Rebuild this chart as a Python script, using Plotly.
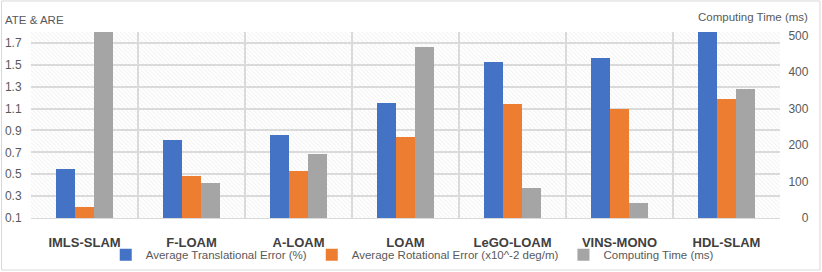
import plotly.graph_objects as go

categories = ["IMLS-SLAM", "F-LOAM", "A-LOAM", "LOAM", "LeGO-LOAM", "VINS-MONO", "HDL-SLAM"]
ate = [0.55, 0.81, 0.86, 1.15, 1.53, 1.565, 1.90]
are = [0.20, 0.48, 0.53, 0.84, 1.14, 1.10, 1.19]
comp_time = [1250, 95, 175, 469, 83, 42, 354]
left_ticks = [0.1, 0.3, 0.5, 0.7, 0.9, 1.1, 1.3, 1.5, 1.7]
right_ticks = [0, 100, 200, 300, 400, 500]

names = ["Average Translational Error (%)", "Average Rotational Error (x10^-2 deg/m)", "Computing Time (ms)"]
colors = ["#4472C4", "#ED7D31", "#A5A5A5"]
FONT = "Liberation Sans, Arial, sans-serif"
TXT = "#595959"
GRID = "#D9D9D9"

xpos = list(range(len(categories)))
bw = 0.175

fig = go.Figure()
# hatched plot-area background
fig.add_trace(go.Bar(
    x=[(len(categories) - 1) / 2], y=[1.8 - 0.1], base=[0.1], width=[len(categories)],
    marker=dict(color="rgba(0,0,0,0)", line=dict(width=0),
                pattern=dict(shape="\\", fgcolor="#E2E2E2", bgcolor="rgba(0,0,0,0)", size=3, solidity=0.3)),
    showlegend=False, hoverinfo="skip", xaxis="x", yaxis="y"))
fig.add_trace(go.Bar(x=xpos, y=ate, name=names[0], marker=dict(color=colors[0], line=dict(width=0)),
                     width=bw, offset=-1.5 * bw, xaxis="x", yaxis="y"))
fig.add_trace(go.Bar(x=xpos, y=are, name=names[1], marker=dict(color=colors[1], line=dict(width=0)),
                     width=bw, offset=-0.5 * bw, xaxis="x", yaxis="y"))
fig.add_trace(go.Bar(x=xpos, y=comp_time, name=names[2], marker=dict(color=colors[2], line=dict(width=0)),
                     width=bw, offset=0.5 * bw, xaxis="x", yaxis="y2"))

fig.update_layout(
    width=822, height=272,
    margin=dict(l=31, r=42, t=32, b=54, autoexpand=False),
    paper_bgcolor="white", plot_bgcolor="white",
    barmode="overlay", bargap=0,
    font=dict(family=FONT, color=TXT, size=11),
    xaxis=dict(range=[-0.5, len(categories) - 0.5], tickvals=xpos, ticktext=categories,
               tickfont=dict(size=13, color="#404040", family=FONT, weight="bold"),
               showgrid=False, zeroline=False, showline=True, linecolor=GRID, linewidth=1,
               ticks="outside", ticklen=12, tickcolor="rgba(0,0,0,0)", automargin=False,
               minor=dict(tickvals=[i - 0.5 for i in range(len(categories) + 1)], showgrid=True,
                          gridcolor=GRID, gridwidth=1.5, ticks=""),
               fixedrange=True),
    yaxis=dict(range=[0.1, 1.8], tickvals=left_ticks, ticktext=[f"{v:.1f}" for v in left_ticks],
               tickfont=dict(size=12, color=TXT), showgrid=True, gridcolor=GRID, gridwidth=1.5,
               zeroline=False, ticks="outside", ticklen=6, tickcolor="rgba(0,0,0,0)", automargin=False),
    yaxis2=dict(range=[0, 510], tickvals=right_ticks,
                ticktext=["\u2007" * (3 - len(str(v))) + str(v) for v in right_ticks],
                overlaying="y", side="right", showgrid=False, zeroline=False, automargin=False,
                tickfont=dict(size=12, color=TXT), ticks="outside", ticklen=5, tickcolor="rgba(0,0,0,0)"),
    legend=dict(orientation="h", x=0.509, xanchor="center", y=-0.198, yanchor="middle",
                font=dict(size=11.5, color=TXT), itemwidth=30, traceorder="normal", bgcolor="rgba(0,0,0,0)"),
    annotations=[
        dict(text="ATE &amp; ARE", xref="paper", yref="paper", x=-0.0374, y=1.0645, xanchor="left",
             yanchor="middle", showarrow=False, font=dict(size=11.5, color=TXT)),
        dict(text="Computing Time (ms)", xref="paper", yref="paper", x=1.04, y=1.079, xanchor="right",
             yanchor="middle", showarrow=False, font=dict(size=11.5, color=TXT)),
    ],
    shapes=[dict(type="rect", xref="paper", yref="paper", x0=-0.0394, x1=1.0534, y0=-0.2796, y1=1.1667,
                 line=dict(color="#D9D9D9", width=1), fillcolor="rgba(0,0,0,0)", layer="below")],
)

fig.write_html("out.html", config={"displayModeBar": False},
               post_script="document.body.style.margin='0';document.body.style.overflow='hidden';")
